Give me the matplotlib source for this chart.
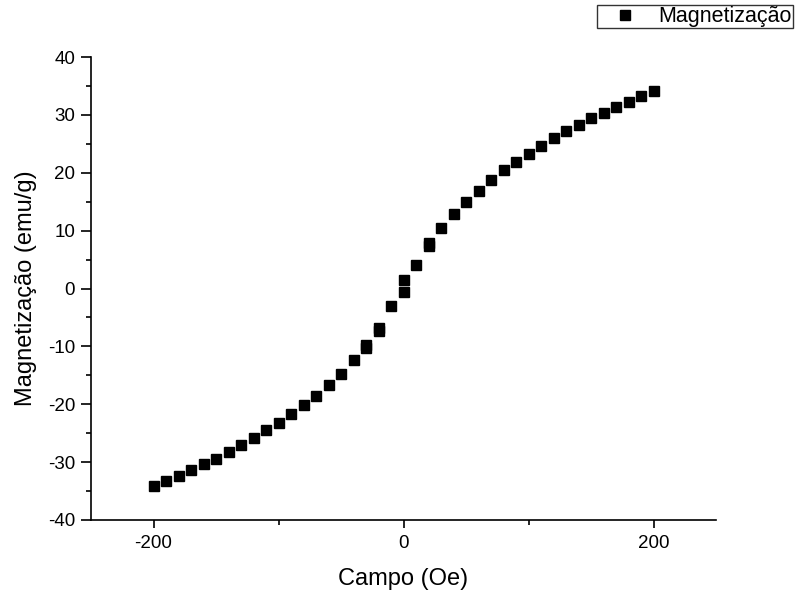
import matplotlib
matplotlib.use("Agg")
import matplotlib.pyplot as plt
from matplotlib.ticker import MultipleLocator

plt.rcParams['font.family'] = ['Liberation Sans', 'DejaVu Sans']
plt.rcParams['axes.unicode_minus'] = False

# field (Oe) and magnetization (emu/g)
campo = [-200, -190, -180, -170, -160, -150, -140, -130, -120, -110,
         -100, -90, -80, -70, -60, -50, -40, -30, -30, -20, -20, -10,
         0, 0, 10, 20, 20, 30, 40, 50, 60, 70, 80, 90, 100,
         110, 120, 130, 140, 150, 160, 170, 180, 190, 200]
magnetizacao = [-34.2, -33.3, -32.4, -31.4, -30.4, -29.4, -28.2, -27.0, -25.9, -24.5,
                -23.2, -21.6, -20.1, -18.5, -16.6, -14.7, -12.3, -10.2, -9.7, -7.3, -6.8, -3.1,
                -0.6, 1.4, 4.0, 7.3, 7.9, 10.4, 12.9, 15.0, 16.9, 18.8, 20.4, 21.8, 23.2,
                24.6, 26.0, 27.2, 28.3, 29.5, 30.4, 31.4, 32.3, 33.3, 34.2]

fig = plt.figure(figsize=(7.96, 5.99), dpi=100)
ax = fig.add_axes([91 / 796, 1 - 520 / 599, 625 / 796, 463 / 599])

ax.plot(campo, magnetizacao, linestyle='none', marker='s', markersize=7,
        color='black', label='Magnetização')

ax.set_xlim(-250, 250)
ax.set_ylim(-40, 40)
ax.xaxis.set_major_locator(MultipleLocator(200))
ax.xaxis.set_minor_locator(MultipleLocator(100))
ax.yaxis.set_major_locator(MultipleLocator(10))
ax.yaxis.set_minor_locator(MultipleLocator(5))

for side in ['top', 'right']:
    ax.spines[side].set_visible(False)
for side in ['left', 'bottom']:
    ax.spines[side].set_linewidth(1.2)

ax.tick_params(which='major', direction='out', length=7, width=1.2,
               labelsize=13.5, pad=4.5)
ax.tick_params(axis='x', which='major', length=6)
ax.tick_params(which='minor', direction='out', length=3.6, width=1.2)

ax.set_xlabel('Campo (Oe)', fontsize=17, labelpad=12)
ax.set_ylabel('Magnetização (emu/g)', fontsize=17, labelpad=8)

# legend sits in the top right corner, its right side runs off the figure
leg = fig.legend(loc='upper left', bbox_to_anchor=(597 / 796, 1 - 5 / 599),
                 borderaxespad=0, fontsize=15.5, frameon=True, fancybox=False,
                 handlelength=2.5, borderpad=0.05, handletextpad=0.3)
leg.get_frame().set_edgecolor('black')
leg.get_frame().set_linewidth(1.0)

fig.savefig('out.png', dpi=100)
